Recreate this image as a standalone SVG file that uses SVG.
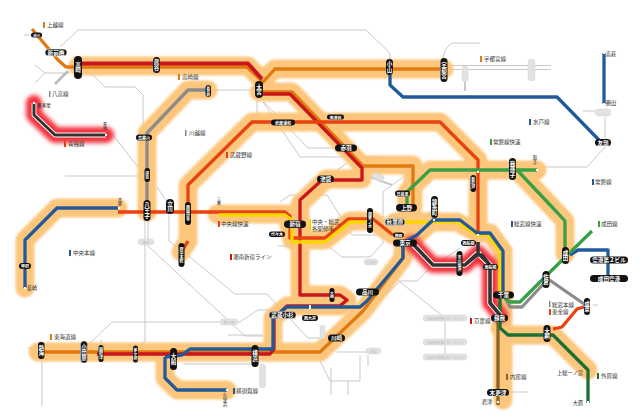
<svg xmlns="http://www.w3.org/2000/svg" width="640" height="418" viewBox="0 0 640 418">
<defs>
<filter id="b" x="-20%" y="-20%" width="140%" height="140%"><feGaussianBlur stdDeviation="1.2"/></filter>
<filter id="r" x="-20%" y="-20%" width="140%" height="140%"><feGaussianBlur stdDeviation="2"/></filter>
</defs>
<style>
text{font-family:"Noto Sans CJK JP","Noto Sans",sans-serif}
path{fill:none;stroke-linejoin:round}
.g path,.g{stroke:#c9c9c9;stroke-width:1}
.h{stroke:#fcc67c;stroke-width:19;stroke-linecap:round}
.rg{stroke:#f2323c;stroke-width:16;stroke-linecap:round}
.ln{stroke-width:3.3}
.n rect{fill:#111}
.n text{fill:#fff;font-size:5.6px;font-weight:700;text-anchor:middle;dominant-baseline:central}
.n text.v,.t.v,.pt.v{writing-mode:vertical-rl;text-orientation:upright;text-anchor:middle}
.p rect{fill:#e2e2e2;stroke:#d4d4d4;stroke-width:.5}
.pt{fill:#bdbdbd;font-size:3.6px;text-anchor:middle;dominant-baseline:central}
.t{fill:#222;font-size:5.2px;text-anchor:middle;dominant-baseline:central}
.l{fill:#333;font-size:5.5px;dominant-baseline:central}
.dot{fill:#fff}
</style>

<g id="background-lines" class="g">
<path d="M60,47L78,30H366L390,53V60"/>
<path d="M443,60Q443,49 452,43H480"/>
<path d="M448,65.500H551M448,69.500H551"/>
<path d="M465,80V91" style="stroke-width:2"/>
<path d="M35,65L45,73L35,83M45,73H70"/>
<path d="M55,84L68,71" style="stroke-width:2.500;stroke:#bbb"/>
<path d="M93,75L105,87H135L143,95V133"/>
<path d="M214,90H252"/>
<path d="M257,100V118"/>
<path d="M263,102L300,157H383L387,160"/>
<path d="M264,102L308,148H340"/>
<path d="M347,163L333,173"/>
<path d="M113,135L138,167"/>
<path d="M65,176H140"/>
<path d="M157,187L168,203"/>
<path d="M169,215V241L182,251"/>
<path d="M185,253L235,294H267L308,338H320"/>
<path d="M145,220V341L135,350"/>
<path d="M148,220V246L245,336H263"/>
<path d="M88,345L112,322H240L258,310H280"/>
<path d="M228,335H263"/>
<path d="M28,348H38M42,356V406"/>
<path d="M183,364H255"/>
<path d="M337,352H370"/>
<path d="M368,355V366M360,355V381H330L320,361M348,381V395M331,368V395"/>
<path d="M395,278L445,318V356"/>
<path d="M373,308L400,281H417L427,271L460,248"/>
<path d="M605,117V147L587,167H540"/>
<path d="M280,202L290,195H327L352,235H377"/>
<path d="M327,245L342,257H370L383,243V192L403,177"/>
<path d="M278,246H293"/>
<path d="M370,177L392,185" style="stroke-width:2"/>
<path d="M593,305H598M510,392H528M24,35H33M101,340V346M583,111H596"/>
</g>

<g id="halos">
<g filter="url(#b)">
<path class="h" d="M78,66H248L262,80L275,69H444"/>
<path class="h" d="M259,92H292L362,165H413V207"/>
<path class="h" d="M326,179H362V165"/>
<path class="h" d="M326,179L300,204V295H340L347,300L340,306H287L273,318V352"/>
<path class="h" d="M208,90H188L147,133V212"/>
<path class="h" d="M118,208H57L25,240V288"/>
<path class="h" d="M181,252L188,241V185L252,122H440L478,160V233"/>
<path class="h" d="M407,207V192L430,170H537"/>
<path class="h" d="M517,170L565,221V254"/>
<path class="h" d="M217,214H287L292,240H325L350,221H373L393,235"/>
<path class="h" d="M395,222H457L477,233H490L503,251V400"/>
<path class="h" d="M38,352H320L363,311L403,258V245L417,235L433,220"/>
<path class="h" d="M165,357V378L177,390H227"/>
<path class="h" d="M500,328L508,335H553L588,370"/>
</g>
<g filter="url(#r)">
<path class="rg" d="M34,103V115L55,135H106"/>
<path class="rg" d="M412,243L433,265H465L478,253L490,265V303L500,315"/>
</g>
</g>

<g id="connectors">
<path class="ln" stroke="#e07a10" d="M32,29L58,60L66,67H247L263,82L275,69H440"/>
<path class="ln" stroke="#e07a10" d="M262,92H292L363,166H413V207"/>
<path class="ln" stroke="#e07a10" d="M38,352H320L363,311L403,258V246"/>
<path class="ln" stroke="#c9151b" style="stroke-width:4" d="M78,63.500H248L262,79"/>
<path class="ln" stroke="#c9151b" d="M260,94H290L362,168V180H322L300,200V295H340L347,300L340,306H287L274,318V349L270,354H97"/>
<path class="ln" stroke="#e8420f" d="M188,241L182,251M188,208V185L252,122H440L478,160V233"/>
<path class="ln" stroke="#e8420f" d="M118,212H285L290,216V238H325L348,219H373L393,235"/>
<path class="ln" stroke="#fbd500" d="M219,215H285L292,220V242H325L350,222H373M395,222H457L477,235H487L500,251V291"/>
<path class="ln" stroke="#215a9a" d="M118,208H57L25,240V288"/>
<path class="ln" stroke="#215a9a" d="M390,75V85L403,97H557L599,140"/>
<path class="ln" stroke="#215a9a" d="M604,53V104"/>
<path class="ln" stroke="#215a9a" d="M165,357V378L177,390H227M165,357L182,355L190,349H273V318L287,307H360L367,301L403,258V243L417,235L433,220H460L477,233H490L503,251V291"/>
<path class="ln" stroke="#215a9a" d="M570,255L578,250H608V278"/>
<path class="ln" stroke="#8b8b8b" d="M208,90H188L147,133V207"/>
<path class="ln" stroke="#8b8b8b" d="M587,306L548,279L522,307H510L505,298"/>
<path class="ln" stroke="#e8420f" d="M553,329L562,327L577,309L587,306"/>
<path class="ln" stroke="#38a044" d="M407,207V192L430,170H537"/>
<path class="ln" stroke="#38a044" d="M517,170L553,208L565,221V251"/>
<path class="ln" stroke="#38a044" d="M592,231L547,275L520,302H510L505,298"/>
<path class="ln" stroke="#8a6526" d="M498,318V405"/>
<path class="ln" stroke="#1c7034" d="M500,295V328L508,335H553L588,370V403"/>
<path stroke="#fff" stroke-width="4.800" d="M34,103V115L55,135H106"/>
<path stroke="#333" stroke-width="3" d="M34,103V115L55,135H106"/>
<path stroke="#fff" stroke-width="5.500" d="M412,243L433,265H465L478,253L490,265V303L500,315"/>
<path stroke="#333" stroke-width="3.600" d="M412,243L433,265H465L478,253V242M478,253L490,265V303L500,315M467,263L477,255H482L490,265"/>
<rect class="dot" x="33" y="102" width="2" height="2"/><rect class="dot" x="105" y="134" width="2" height="2"/>
<rect class="dot" x="118" y="207" width="2" height="2"/><rect class="dot" x="24" y="287" width="2" height="2"/>
<rect class="dot" x="603" y="52" width="2" height="2"/><rect class="dot" x="603" y="103" width="2" height="2"/>
<rect class="dot" x="536" y="169" width="2" height="2"/><rect class="dot" x="477" y="171" width="2" height="2"/>
<rect class="dot" x="433" y="219" width="2" height="2"/><rect class="dot" x="309" y="305" width="2" height="4"/>
<rect class="dot" x="497" y="401" width="2" height="2"/><rect class="dot" x="587" y="401" width="2" height="2"/>
<rect class="dot" x="226" y="389" width="2" height="2"/><rect class="dot" x="477" y="234" width="2" height="2"/>
</g>

<g id="legend">
<rect x="43" y="22" width="2" height="6" fill="#e07a10"/><text class="l" x="47" y="25">上越線</text>
<rect x="178" y="74" width="2" height="6" fill="#e07a10"/><text class="l" x="182" y="77">高崎線</text>
<rect x="49" y="91" width="1.500" height="6" fill="#888"/><text class="l" x="52" y="94">八高線</text>
<rect x="64" y="141" width="2" height="6" fill="#e8420f"/><text class="l" x="68" y="144">青梅線</text>
<rect x="185" y="130" width="1.500" height="6" fill="#888"/><text class="l" x="189" y="133">川越線</text>
<rect x="226" y="152" width="2" height="6" fill="#e8420f"/><text class="l" x="230" y="155">武蔵野線</text>
<rect x="218" y="221" width="2" height="6" fill="#e8420f"/><text class="l" x="221" y="224">中央線快速</text>
<rect x="69" y="250" width="2" height="6" fill="#215a9a"/><text class="l" x="73" y="253">中央本線</text>
<rect x="230" y="254" width="2" height="6" fill="#c9151b"/><text class="l" x="233" y="257">湘南新宿ライン</text>
<rect x="50" y="334" width="2" height="6" fill="#e07a10"/><text class="l" x="54" y="337">東海道線</text>
<rect x="233" y="388" width="2" height="6" fill="#215a9a"/><text class="l" x="236" y="391">横須賀線</text>
<rect x="480" y="56" width="2" height="6" fill="#e07a10"/><text class="l" x="484" y="59">宇都宮線</text>
<rect x="529" y="119" width="2" height="6" fill="#215a9a"/><text class="l" x="533" y="122">水戸線</text>
<rect x="490" y="139" width="2" height="6" fill="#38a044"/><text class="l" x="493" y="142">常磐線快速</text>
<rect x="592" y="179" width="2" height="6" fill="#215a9a"/><text class="l" x="595" y="182">常磐線</text>
<rect x="511" y="221" width="2" height="6" fill="#215a9a"/><text class="l" x="514" y="224">総武線快速</text>
<rect x="598" y="221" width="2" height="6" fill="#38a044"/><text class="l" x="601" y="224">成田線</text>
<rect x="549" y="301" width="1.500" height="6" fill="#888"/><text class="l" x="552" y="304.500">総武本線</text>
<rect x="549" y="309" width="2" height="6" fill="#e8420f"/><text class="l" x="552" y="312">東金線</text>
<rect x="470" y="318" width="2" height="6" fill="#c9151b"/><text class="l" x="474" y="321">京葉線</text>
<rect x="506" y="374" width="2" height="6" fill="#8a6526"/><text class="l" x="510" y="377">内房線</text>
<rect x="597" y="373" width="2" height="6" fill="#1c7034"/><text class="l" x="601" y="376">外房線</text>
<rect x="309" y="219" width="2" height="12" fill="#fbd500"/><text class="l" x="312" y="221.500">中央・総武</text><text class="l" x="312" y="228.500">各駅停車</text>
</g>

<g id="passing-stations">
<text class="t" x="44" y="105" style="font-size:4.500px">奥多摩</text>
<text class="t v" x="105" y="126" style="font-size:4px">青梅</text>
<text class="t v" x="120" y="202" style="font-size:4px">高尾</text>
<text class="t v" x="219" y="201" style="font-size:4px">三鷹</text>
<text class="t" x="32" y="287">韮崎</text>
<text class="t" x="611" y="53">高萩</text>
<text class="t" x="611" y="102">勝田</text>
<text class="t v" x="535" y="160" style="font-size:4.500px">取手</text>
<text class="t" x="487" y="401">君津</text>
<text class="t" x="578" y="402">大原</text>
<text class="t" x="570" y="372">上総一ノ宮</text>
<text class="t v" x="225" y="400" style="font-size:4.500px">久里浜</text>
</g>

<g id="pale-stations">
<g class="p"><rect x="462" y="66" width="6" height="16" rx="3"/></g>
<g class="p"><rect x="528" y="59" width="7" height="22" rx="3.500"/></g>
<g class="p"><rect x="138" y="239" width="16" height="6" rx="3"/><text class="pt" x="146" y="242">橋本</text></g>
<g class="p"><rect x="220" y="319" width="18" height="6" rx="3"/><text class="pt" x="229" y="322">茅ヶ崎</text></g>
<g class="p"><rect x="320" y="325" width="5" height="14" rx="2.500"/></g>
<g class="p"><rect x="259.500" y="364" width="6" height="24" rx="3"/></g>
<g class="p"><rect x="364" y="259" width="14" height="6" rx="3"/><text class="pt" x="371" y="262">大井町</text></g>
<g class="p"><rect x="366" y="348" width="15" height="6" rx="3"/><text class="pt" x="373" y="351">京急</text></g>
<g class="p"><rect x="423" y="315" width="44" height="6" rx="3"/><text class="pt" x="445" y="318">羽田空港第1ターミナル</text></g>
<g class="p"><rect x="423" y="339" width="44" height="6" rx="3"/><text class="pt" x="445" y="342">羽田空港第2ターミナル</text></g>
<g class="p"><rect x="423" y="354" width="44" height="6" rx="3"/><text class="pt" x="445" y="357">羽田空港第3ターミナル</text></g>
<g class="p"><rect x="595" y="109" width="16" height="7" rx="3.500"/></g>
<g class="p"><rect x="372" y="174" width="12" height="6" rx="3" transform="rotate(20 378 177)"/></g>
</g>

<g id="stations" class="n">
<g id="n1"><rect x="31" y="32.500" width="11" height="5" rx="2.500"/><text x="36.500" y="35" style="font-size:3.500px">渋川</text></g>
<g id="n2"><rect x="45" y="49" width="22" height="7" rx="3.500" stroke="#fff" stroke-width=".6"/><text x="56" y="52.500">新前橋</text></g>
<g id="n3"><rect x="74" y="56" width="8" height="23" rx="4"/><text class="v" x="78" y="67.500">高崎</text></g>
<g id="n4"><rect x="153" y="57" width="7" height="16" rx="3.500"/><text class="v" x="156.500" y="65">熊谷</text></g>
<g id="n5"><rect x="255" y="81" width="8" height="17" rx="4"/><text class="v" x="259" y="89.500">大宮</text></g>
<g id="n6"><rect x="386" y="59" width="7" height="16" rx="3.500"/><text class="v" x="389.500" y="67">小山</text></g>
<g id="n7"><rect x="440.500" y="58" width="7" height="24" rx="3.500"/><text class="v" x="444" y="70">宇都宮</text></g>
<g id="n8"><rect x="205.500" y="85" width="5.500" height="12" rx="2.700"/><text class="v" x="208.200" y="91" style="font-size:3.500px">倉賀野</text></g>
<g id="n9"><rect x="136" y="134.500" width="16" height="6" rx="3"/><text x="144" y="137.500" style="font-size:4px">高麗川</text></g>
<g id="n10"><rect x="144.500" y="168" width="5.500" height="14" rx="2.700"/><text class="v" x="147.200" y="175" style="font-size:4px">拝島</text></g>
<g id="n11"><rect x="143.500" y="200" width="7" height="21" rx="3.500"/><text class="v" x="147" y="210.500">八王子</text></g>
<g id="n12"><rect x="166" y="199" width="8" height="15" rx="4"/><text class="v" x="170" y="206.500">立川</text></g>
<g id="n13"><rect x="185" y="202" width="6" height="23" rx="3"/><text class="v" x="188" y="213.500" style="font-size:4px">西国分寺</text></g>
<g id="n14"><rect x="178.500" y="243" width="6" height="24" rx="3"/><text class="v" x="181.500" y="255" style="font-size:4px">府中本町</text></g>
<g id="n15"><rect x="271" y="119.500" width="24" height="6" rx="3"/><text x="283" y="122.500" style="font-size:4px">武蔵浦和</text></g>
<g id="n16"><rect x="327" y="114.500" width="17" height="5" rx="2.500"/><text x="335.500" y="117" style="font-size:3.800px">南浦和</text></g>
<g id="n17"><rect x="335" y="144.500" width="22" height="7" rx="3.500"/><text x="346" y="148">赤羽</text></g>
<g id="n18"><rect x="317" y="175.500" width="17" height="7" rx="3.500"/><text x="325.500" y="179">池袋</text></g>
<g id="n19"><rect x="395" y="190.500" width="15" height="6" rx="3"/><text x="402.500" y="193.500" style="font-size:4px">日暮里</text></g>
<g id="n20"><rect x="396" y="204" width="21" height="7.500" rx="3.700"/><text x="406.500" y="207.700">上野</text></g>
<g id="n21"><rect x="431" y="196" width="7" height="22" rx="3.500"/><text class="v" x="434.500" y="207">錦糸町</text></g>
<g id="n22"><rect x="367" y="208" width="6" height="25" rx="3"/><text class="v" x="370" y="220.500" style="font-size:4px">御茶ノ水</text></g>
<g id="n23"><rect x="385" y="218.500" width="20" height="7" rx="3.500" stroke="#fff" stroke-width=".5"/><text x="395" y="222">秋葉原</text></g>
<g id="n24"><rect x="393" y="232.500" width="11" height="5" rx="2.500"/><text x="398.500" y="235" style="font-size:3.800px">神田</text></g>
<g id="n25"><rect x="393" y="239.500" width="24" height="7" rx="3.500"/><text x="405" y="243">東京</text></g>
<g id="n26"><rect x="461" y="240" width="15" height="6" rx="3"/><text x="468.500" y="243" style="font-size:4px">西船橋</text></g>
<g id="n27"><rect x="456.500" y="251" width="6" height="25" rx="3"/><text class="v" x="459.500" y="263.500" style="font-size:4px">市川塩浜</text></g>
<g id="n28"><rect x="483" y="264" width="15" height="6" rx="3"/><text x="490.500" y="267" style="font-size:4px">南船橋</text></g>
<g id="n29"><rect x="493" y="291.500" width="21" height="7" rx="3.500"/><text x="503.500" y="295">千葉</text></g>
<g id="n30"><rect x="491" y="314.500" width="17" height="7" rx="3.500"/><text x="499.500" y="318">蘇我</text></g>
<g id="n31"><rect x="487" y="389" width="22" height="7" rx="3.500"/><text x="498" y="392.500">木更津</text></g>
<g id="n32"><rect x="543.500" y="325" width="7" height="17" rx="3.500"/><text class="v" x="547" y="333.500">大網</text></g>
<g id="n33"><rect x="542.500" y="271" width="7" height="17" rx="3.500"/><text class="v" x="546" y="279.500">佐倉</text></g>
<g id="n34"><rect x="584" y="298" width="6" height="17" rx="3"/><text class="v" x="587" y="306.500">成東</text></g>
<g id="n35"><rect x="562" y="247" width="7" height="17" rx="3.500"/><text class="v" x="565.500" y="255.500">成田</text></g>
<g id="n36"><rect x="590" y="256.500" width="38" height="7" rx="3.500"/><text x="609" y="260">空港第２ビル</text></g>
<g id="n37"><rect x="590" y="275" width="38" height="7" rx="3.500"/><text x="609" y="278.500">成田空港</text></g>
<g id="n38"><rect x="595" y="139" width="16" height="7" rx="3.500"/><text x="603" y="142.500">友部</text></g>
<g id="n39"><rect x="509" y="158" width="7" height="22" rx="3.500"/><text class="v" x="512.500" y="169">我孫子</text></g>
<g id="n40"><rect x="470.500" y="175" width="5.500" height="17" rx="2.700"/><text class="v" x="473.200" y="183.500" style="font-size:4px">新松戸</text></g>
<g id="n41"><rect x="356" y="288.500" width="23" height="7" rx="3.500"/><text x="367.500" y="292">品川</text></g>
<g id="n42"><rect x="329.500" y="288" width="5" height="14" rx="2.500"/><text class="v" x="332" y="295" style="font-size:3.800px">大崎</text></g>
<g id="n43"><rect x="328" y="334.500" width="17" height="7" rx="3.500"/><text x="336.500" y="338">川崎</text></g>
<g id="n44"><rect x="302" y="315" width="16" height="6" rx="3"/><text x="310" y="318" style="font-size:4px">西大井</text></g>
<g id="n45"><rect x="269" y="311.500" width="27" height="7" rx="3.500" stroke="#fff" stroke-width=".4"/><text x="282.500" y="315">武蔵小杉</text></g>
<g id="n46"><rect x="251.500" y="345" width="7" height="22" rx="3.500"/><text class="v" x="255" y="356">横浜</text></g>
<g id="n47"><rect x="170" y="348" width="7" height="22" rx="3.500"/><text class="v" x="173.500" y="359">大船</text></g>
<g id="n48"><rect x="133" y="345.500" width="5" height="17" rx="2.500"/><text class="v" x="135.500" y="354" style="font-size:4px">茅ケ崎</text></g>
<g id="n49"><rect x="98.500" y="345" width="5" height="17" rx="2.500"/><text class="v" x="101" y="353.500" style="font-size:4px">国府津</text></g>
<g id="n50"><rect x="80.500" y="341" width="7" height="22" rx="3.500" stroke="#fff" stroke-width=".4"/><text class="v" x="84" y="352">小田原</text></g>
<g id="n51"><rect x="38" y="342" width="6.500" height="17" rx="3"/><text class="v" x="41.200" y="350.500">熱海</text></g>
<g id="n52"><rect x="269" y="231.500" width="16" height="5.500" rx="2.700"/><text x="277" y="234.200" style="font-size:4px">代々木</text></g>
<g id="n53"><rect x="284" y="220.500" width="22" height="7.500" rx="3.700"/><text x="295" y="224.200">新宿</text></g>
<g id="n54"><rect x="19" y="263" width="12" height="6" rx="3"/><text x="25" y="266" style="font-size:4px">甲府</text></g>
</g>
</svg>
